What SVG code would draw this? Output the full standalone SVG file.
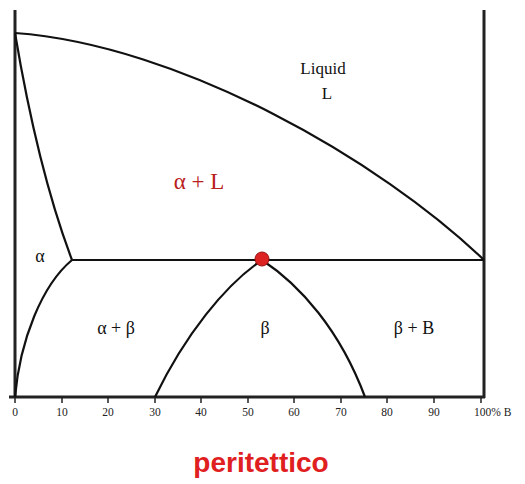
<svg xmlns="http://www.w3.org/2000/svg" width="525" height="484" viewBox="0 0 525 484">
<style>
.ax{stroke:#222;stroke-width:3;fill:none}
.ln{stroke:#111;stroke-width:2.2;fill:none}
.tk{stroke:#222;stroke-width:1.5}
.lb{font-family:"Liberation Serif",serif;fill:#111}
.tl{font-family:"Liberation Serif",serif;font-size:11.5px;fill:#222;text-anchor:middle}
</style>
<rect width="525" height="484" fill="#fff"/>
<g id="axes">
<line class="ax" x1="15" y1="10" x2="15" y2="398"/>
<line class="ax" x1="484" y1="10" x2="484" y2="398"/>
<line class="ax" x1="9" y1="397" x2="485" y2="397"/>
<g>
<line class="tk" x1="15" y1="397" x2="15" y2="403"/>
<line class="tk" x1="62" y1="397" x2="62" y2="403"/>
<line class="tk" x1="108" y1="397" x2="108" y2="403"/>
<line class="tk" x1="155" y1="397" x2="155" y2="403"/>
<line class="tk" x1="201" y1="397" x2="201" y2="403"/>
<line class="tk" x1="248" y1="397" x2="248" y2="403"/>
<line class="tk" x1="294" y1="397" x2="294" y2="403"/>
<line class="tk" x1="341" y1="397" x2="341" y2="403"/>
<line class="tk" x1="387" y1="397" x2="387" y2="403"/>
<line class="tk" x1="434" y1="397" x2="434" y2="403"/>
<line class="tk" x1="481" y1="397" x2="481" y2="403"/>
</g>
<text class="tl" x="15" y="416">0</text>
<text class="tl" x="62" y="416">10</text>
<text class="tl" x="108" y="416">20</text>
<text class="tl" x="155" y="416">30</text>
<text class="tl" x="201" y="416">40</text>
<text class="tl" x="248" y="416">50</text>
<text class="tl" x="294" y="416">60</text>
<text class="tl" x="341" y="416">70</text>
<text class="tl" x="387" y="416">80</text>
<text class="tl" x="434" y="416">90</text>
<text class="tl" x="474" y="416" style="text-anchor:start">100% B</text>
</g>
<g id="connectors">
<path class="ln" d="M15,33 C180,45 380,160 484,260"/>
<path class="ln" d="M15,33 Q38,170 72,260"/>
<path class="ln" d="M72,260 C42,285 20,340 15,397"/>
<line class="ln" x1="72" y1="260" x2="484" y2="260"/>
<path class="ln" d="M155,397 C185,335 225,285 262,260"/>
<path class="ln" d="M262,260 C300,285 340,330 365,397"/>
</g>
<g id="peritectic-point">
<circle cx="262" cy="259" r="7" fill="#dd2222" stroke="#991111" stroke-width="1"/>
</g>
<g id="labels">
<text class="lb" x="323" y="74" font-size="17" text-anchor="middle">Liquid</text>
<text class="lb" x="327" y="99" font-size="17" text-anchor="middle">L</text>
<text class="lb" x="199" y="189" font-size="23" text-anchor="middle" style="fill:#b82020">α + L</text>
<text class="lb" x="40" y="262" font-size="18" text-anchor="middle">α</text>
<text class="lb" x="116" y="334" font-size="18" text-anchor="middle">α + β</text>
<text class="lb" x="265" y="334" font-size="18" text-anchor="middle">β</text>
<text class="lb" x="414" y="334" font-size="18" text-anchor="middle">β + B</text>
<text x="261" y="472" font-family="Liberation Sans,Arial,sans-serif" font-weight="bold" font-size="28" fill="#e02020" text-anchor="middle">peritettico</text>
</g>
</svg>
